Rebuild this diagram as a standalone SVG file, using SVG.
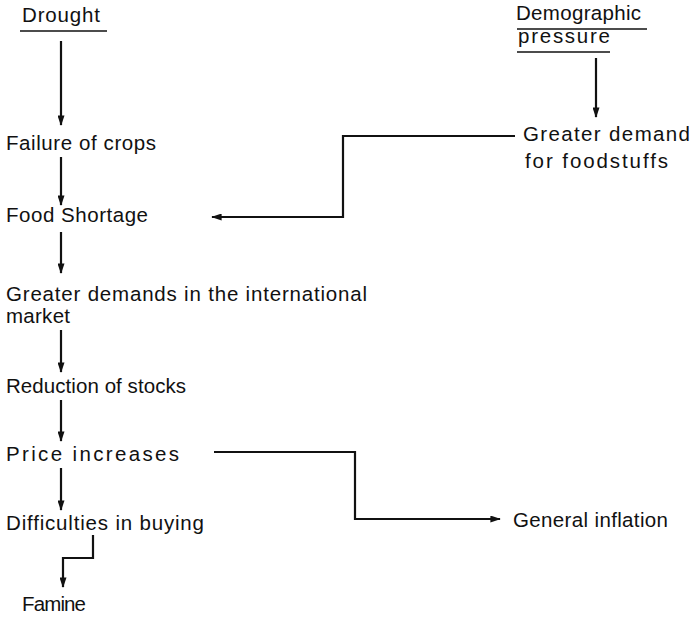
<svg xmlns="http://www.w3.org/2000/svg" width="691" height="617" viewBox="0 0 691 617">
<style>
text{font-family:"Liberation Sans",Arial,sans-serif;font-size:20.5px;fill:#111}
.ln{fill:none;stroke:#111;stroke-width:2.2}
.ul{stroke:#111;stroke-width:1.6}
</style>
<defs>
<marker id="ah" viewBox="0 0 12 8" refX="11" refY="4" markerWidth="12" markerHeight="7" markerUnits="userSpaceOnUse" orient="auto-start-reverse">
<path d="M0,0 L12,4 L0,8 z" fill="#111"/>
</marker>
</defs>
<rect width="691" height="617" fill="#fff"/>
<g id="drought"><text x="22" y="22" textLength="78">Drought</text><line class="ul" x1="20" y1="31" x2="107" y2="31"/></g>
<g id="demographic"><text x="516" y="20" textLength="125">Demographic</text><line class="ul" x1="517" y1="29" x2="647" y2="29"/><text x="518" y="43" textLength="92">pressure</text><line class="ul" x1="517" y1="52" x2="610" y2="52"/></g>
<g id="greater-demand"><text x="523" y="141" textLength="167">Greater demand</text><text x="525" y="168" textLength="143">for foodstuffs</text></g>
<g id="failure"><text x="6" y="150" textLength="150">Failure of crops</text></g>
<g id="food-shortage"><text x="6" y="222" textLength="142">Food Shortage</text></g>
<g id="international"><text x="6" y="301" textLength="361">Greater demands in the international</text><text x="6" y="323" textLength="64">market</text></g>
<g id="reduction"><text x="6" y="393" textLength="180">Reduction of stocks</text></g>
<g id="price"><text x="6" y="461" textLength="173">Price increases</text></g>
<g id="difficulties"><text x="6" y="530" textLength="198">Difficulties in buying</text></g>
<g id="famine"><text x="22" y="611" textLength="64">Famine</text></g>
<g id="inflation"><text x="513" y="527" textLength="155">General inflation</text></g>
<g id="connectors">
<line class="ln" x1="61" y1="41" x2="61" y2="125" marker-end="url(#ah)"/>
<line class="ln" x1="61" y1="157" x2="61" y2="205" marker-end="url(#ah)"/>
<line class="ln" x1="61" y1="232" x2="61" y2="273" marker-end="url(#ah)"/>
<line class="ln" x1="61" y1="330" x2="61" y2="372" marker-end="url(#ah)"/>
<line class="ln" x1="61" y1="400" x2="61" y2="441" marker-end="url(#ah)"/>
<line class="ln" x1="61" y1="468" x2="61" y2="510" marker-end="url(#ah)"/>
<polyline class="ln" points="93,535 93,558 63,558 63,587" marker-end="url(#ah)"/>
<line class="ln" x1="596" y1="58" x2="596" y2="117" marker-end="url(#ah)"/>
<polyline class="ln" points="515,136 343,136 343,217 212,217" marker-end="url(#ah)"/>
<polyline class="ln" points="214,452 355,452 355,519 500,519" marker-end="url(#ah)"/>
</g>
</svg>
